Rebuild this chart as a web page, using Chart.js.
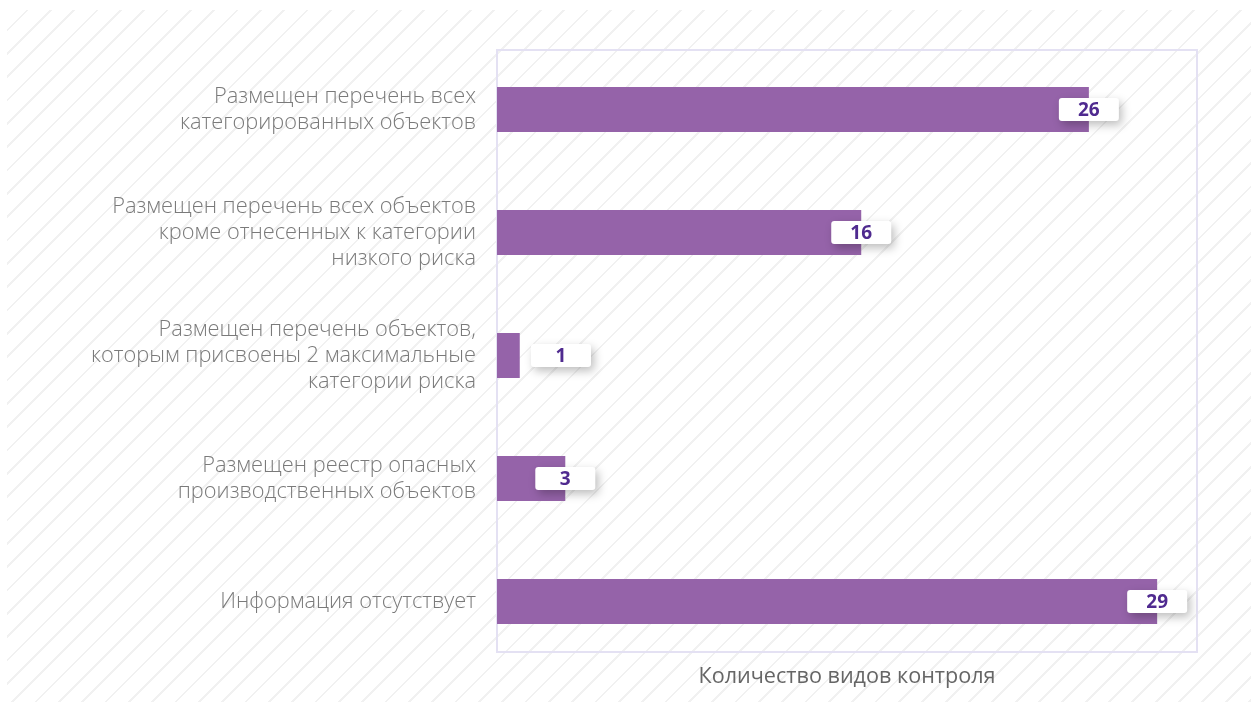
<!DOCTYPE html>
<html>
<head>
<meta charset="utf-8">
<script src="https://cdn.jsdelivr.net/npm/chart.js@4"></script>
<style>
    html, body { margin: 0; padding: 0; background: #fff; }
    .wrap { position: relative; width: 1251px; height: 702px; overflow: hidden; }
    .hatch {
        position: absolute; left: 7px; top: 10px; right: 0; bottom: 0;
        background: repeating-linear-gradient(135deg, #ffffff 0px, #ffffff 13.5px, #f1f1f1 13.5px, #f1f1f1 15.5px, #ffffff 15.5px, #ffffff 16.5px);
    }
    canvas { position: absolute; left: 0; top: 0; }
</style>
</head>
<body>
<div class="wrap">
    <div class="hatch"></div>
    <canvas id="chart" width="1251" height="702"></canvas>
</div>
<script>
const categories = [
    ['Размещен перечень всех', 'категорированных объектов'],
    ['Размещен перечень всех объектов', 'кроме отнесенных к категории', 'низкого риска'],
    ['Размещен перечень объектов,', 'которым присвоены 2 максимальные', 'категории риска'],
    ['Размещен реестр опасных', 'производственных объектов'],
    ['Информация отсутствует']
];
const counts = [26, 16, 1, 3, 29];
const axisTitle = 'Количество видов контроля';

// white boxes with the value, centred on the bar end
const valueBoxes = {
    id: 'valueBoxes',
    afterDatasetsDraw(chart) {
        const ctx = chart.ctx;
        const area = chart.chartArea;
        const meta = chart.getDatasetMeta(0);
        const w = 60, h = 23;
        meta.data.forEach((bar, i) => {
            const cx = Math.max(bar.x, area.left + 64);
            const cy = bar.y;
            ctx.save();
            ctx.shadowColor = 'rgba(0,0,0,0.26)';
            ctx.shadowBlur = 10;
            ctx.shadowOffsetX = 3;
            ctx.shadowOffsetY = 4;
            ctx.fillStyle = '#ffffff';
            ctx.beginPath();
            ctx.roundRect(cx - w / 2, cy - h / 2, w, h, 3);
            ctx.fill();
            ctx.restore();
            ctx.save();
            ctx.fillStyle = '#4f2a8f';
            ctx.font = 'bold 19px "Open Sans", sans-serif';
            ctx.textAlign = 'center';
            ctx.textBaseline = 'middle';
            ctx.fillText(String(counts[i]), cx, cy + 1);
            ctx.restore();
        });
    }
};

// lavender frame round the plot
const plotFrame = {
    id: 'plotFrame',
    beforeDatasetsDraw(chart) {
        const a = chart.chartArea;
        const ctx = chart.ctx;
        ctx.save();
        ctx.strokeStyle = '#e4e1f3';
        ctx.lineWidth = 2;
        ctx.strokeRect(a.left, a.top + 2, a.right - a.left, a.bottom - a.top - 13);
        ctx.restore();
    }
};

new Chart(document.getElementById('chart'), {
    type: 'bar',
    data: {
        labels: categories,
        datasets: [{
            data: counts,
            backgroundColor: '#9563a9',
            borderWidth: 0,
            categoryPercentage: 1,
            barPercentage: 0.366
        }]
    },
    options: {
        indexAxis: 'y',
        responsive: false,
        animation: false,
        events: [],
        layout: { padding: { top: 48, right: 54, left: 0, bottom: 0 } },
        plugins: {
            legend: { display: false },
            tooltip: { enabled: false }
        },
        scales: {
            x: {
                min: 0,
                max: 30.75,
                grid: { display: false, drawTicks: false },
                border: { display: false },
                ticks: { display: false },
                title: {
                    display: true,
                    text: axisTitle,
                    color: '#666666',
                    font: { family: '"Open Sans"', size: 21.6, weight: 'normal' },
                    padding: { top: 0, bottom: 12 }
                },
                afterFit(scale) { scale.height = 39; }
            },
            y: {
                grid: { display: false, drawTicks: false },
                border: { display: false },
                ticks: {
                    color: '#7a7a7a',
                    padding: 21,
                    font: { family: '"Open Sans"', size: 21.8, weight: '300', lineHeight: 1.2 }
                },
                afterFit(scale) {
                    scale.width = 497;
                    scale.paddingTop = 0;
                    scale.paddingBottom = 0;
                }
            }
        }
    },
    plugins: [plotFrame, valueBoxes]
});
</script>
</body>
</html>
